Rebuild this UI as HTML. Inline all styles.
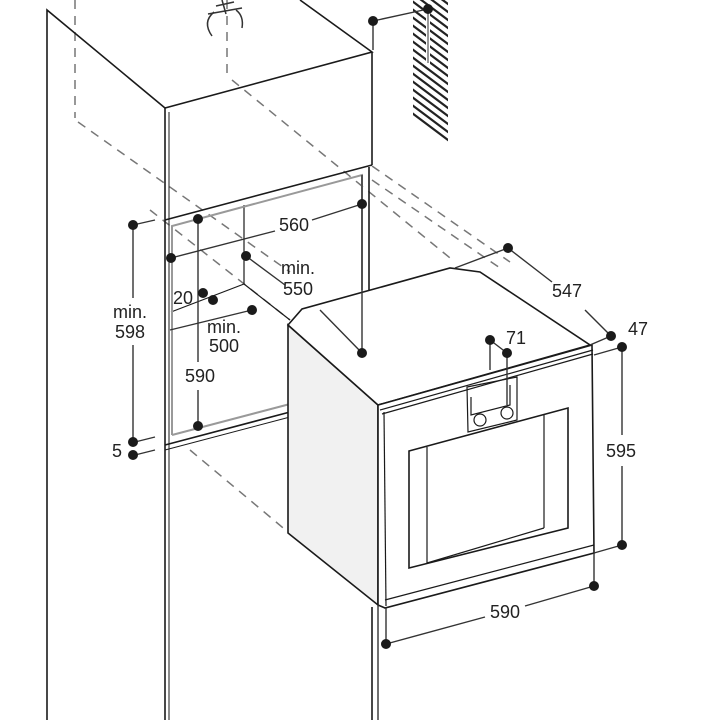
<!DOCTYPE html>
<html><head><meta charset="utf-8"><style>
html,body{margin:0;padding:0;background:#fff}
svg{display:block}
text{font-family:"Liberation Sans",sans-serif;font-size:18px;fill:#222}
</style></head><body>
<svg width="720" height="720" viewBox="0 0 720 720" xmlns="http://www.w3.org/2000/svg">
<defs>
<clipPath id="hc"><polygon points="413,0 448,0 448,143 413,118"/></clipPath>
</defs>
<g clip-path="url(#hc)" stroke="#222" stroke-width="2.2">
<line x1="400" y1="-40" x2="460" y2="5"/><line x1="400" y1="-32" x2="460" y2="13"/><line x1="400" y1="-24" x2="460" y2="21"/><line x1="400" y1="-16" x2="460" y2="29"/><line x1="400" y1="-8" x2="460" y2="37"/><line x1="400" y1="0" x2="460" y2="45"/><line x1="400" y1="8" x2="460" y2="53"/><line x1="400" y1="16" x2="460" y2="61"/><line x1="400" y1="24" x2="460" y2="69"/><line x1="400" y1="32" x2="460" y2="77"/><line x1="400" y1="40" x2="460" y2="85"/><line x1="400" y1="48" x2="460" y2="93"/><line x1="400" y1="56" x2="460" y2="101"/><line x1="400" y1="64" x2="460" y2="109"/><line x1="400" y1="72" x2="460" y2="117"/><line x1="400" y1="80" x2="460" y2="125"/><line x1="400" y1="88" x2="460" y2="133"/><line x1="400" y1="96" x2="460" y2="141"/><line x1="400" y1="104" x2="460" y2="149"/><line x1="400" y1="112" x2="460" y2="157"/><line x1="400" y1="120" x2="460" y2="165"/>
</g>
<rect x="426" y="10" width="4" height="54" fill="#fff"/>
<line x1="428" y1="10" x2="428" y2="63" stroke="#777" stroke-width="1.5"/>

<g stroke="#777" stroke-width="1.5" stroke-dasharray="9,7" fill="none">
<line x1="75" y1="0" x2="75" y2="118"/>
<line x1="78" y1="122" x2="290" y2="272"/>
<line x1="227" y1="0" x2="227" y2="78"/>
<line x1="232" y1="80" x2="455" y2="262"/>
<line x1="372" y1="166" x2="510" y2="262"/>
<line x1="372" y1="180" x2="500" y2="268"/>
<line x1="190" y1="450" x2="288" y2="532"/>
<line x1="150" y1="210" x2="290" y2="320"/>
</g>

<g stroke="#1a1a1a" stroke-width="1.6" fill="none">
<polyline points="47,720 47,10 165,108 372,52 300,0"/>
<line x1="165" y1="108" x2="165" y2="720"/>
<line x1="169" y1="112" x2="169" y2="720" stroke-width="1"/>
<line x1="372" y1="52" x2="372" y2="165"/>
<line x1="165" y1="220" x2="372" y2="165"/>
<line x1="369" y1="167" x2="369" y2="290"/>
<line x1="372" y1="607" x2="372" y2="720"/>
<line x1="165" y1="445" x2="290" y2="412"/>
<line x1="165" y1="450" x2="290" y2="417" stroke-width="1"/>
<line x1="244" y1="205" x2="244" y2="284" stroke-width="1.2"/>
<line x1="171" y1="312" x2="244" y2="284" stroke-width="1.2"/>
<line x1="244" y1="284" x2="290" y2="320" stroke-width="1.2"/>
</g>
<g stroke="#999" stroke-width="2" fill="none">
<polyline points="172,435 172,226 362,175 362,290"/>
<line x1="172" y1="435" x2="290" y2="404"/>
</g>

<polygon points="288,325 378,405 378,605 288,533" fill="#f1f1f1" stroke="#1a1a1a" stroke-width="1.6"/>
<polygon points="288,325 302,309 450,268 480,272 590,345 378,405" fill="#fff" stroke="#1a1a1a" stroke-width="1.6"/>
<polygon points="378,405 592,345 594,553 385,608 378,605" fill="#fff" stroke="#1a1a1a" stroke-width="1.6"/>
<g stroke="#1a1a1a" fill="none" stroke-width="1.2">
<line x1="380" y1="410" x2="593" y2="350"/>
<line x1="382" y1="414" x2="593" y2="354"/>
<line x1="384" y1="412" x2="386" y2="606"/>
<line x1="385" y1="600" x2="594" y2="545"/>
<polygon points="409,451 568,408 568,528 409,568" stroke-width="1.6"/>
<line x1="427" y1="447" x2="427" y2="563"/>
<line x1="544" y1="415" x2="544" y2="528"/>
<line x1="427" y1="563" x2="544" y2="528"/>
<polygon points="467,387 517,377 517,420 468,432"/>
<polyline points="471,397 471,415 510,405 510,385"/>
<circle cx="480" cy="420" r="6"/><circle cx="507" cy="413" r="6"/>
</g>

<g stroke="#333" stroke-width="1.4" fill="none">
<line x1="373" y1="21" x2="428" y2="9"/><line x1="373" y1="21" x2="373" y2="50"/>
<line x1="171" y1="258" x2="275" y2="231"/><line x1="312" y1="220" x2="362" y2="204"/>
<line x1="198" y1="219" x2="198" y2="362"/><line x1="198" y1="390" x2="198" y2="426"/>
<line x1="362" y1="175" x2="362" y2="353"/>
<line x1="246" y1="256" x2="285" y2="285"/><line x1="320" y1="310" x2="362" y2="353"/>
<line x1="133" y1="225" x2="155" y2="220"/>
<line x1="133" y1="225" x2="133" y2="298"/><line x1="133" y1="345" x2="133" y2="442"/>
<line x1="135" y1="442" x2="155" y2="437"/><line x1="135" y1="455" x2="155" y2="450"/>
<line x1="170" y1="330" x2="252" y2="310"/>
<line x1="508" y1="248" x2="552" y2="282"/><line x1="585" y1="310" x2="611" y2="336"/>
<line x1="455" y1="268" x2="508" y2="248"/>
<line x1="590" y1="345" x2="611" y2="336"/>
<line x1="594" y1="355" x2="622" y2="347"/>
<line x1="622" y1="347" x2="622" y2="435"/><line x1="622" y1="466" x2="622" y2="545"/>
<line x1="594" y1="553" x2="622" y2="545"/>
<line x1="490" y1="340" x2="490" y2="370"/><line x1="490" y1="340" x2="507" y2="353"/>
<line x1="507" y1="353" x2="507" y2="405"/>
<line x1="386" y1="608" x2="386" y2="644"/>
<line x1="594" y1="553" x2="594" y2="586"/>
<line x1="386" y1="644" x2="485" y2="617"/><line x1="525" y1="606" x2="594" y2="586"/>
<line x1="378" y1="605" x2="378" y2="720"/>
</g>
<g fill="#1a1a1a">
<circle cx="373" cy="21" r="5"/><circle cx="428" cy="9" r="5"/>
<circle cx="171" cy="258" r="5"/><circle cx="362" cy="204" r="5"/>
<circle cx="198" cy="219" r="5"/><circle cx="198" cy="426" r="5"/>
<circle cx="246" cy="256" r="5"/><circle cx="362" cy="353" r="5"/>
<circle cx="133" cy="225" r="5"/><circle cx="133" cy="442" r="5"/><circle cx="133" cy="455" r="5"/>
<circle cx="203" cy="293" r="5"/><circle cx="213" cy="300" r="5"/>
<circle cx="252" cy="310" r="5"/>
<circle cx="508" cy="248" r="5"/><circle cx="611" cy="336" r="5"/><circle cx="622" cy="347" r="5"/>
<circle cx="622" cy="545" r="5"/>
<circle cx="490" cy="340" r="5"/><circle cx="507" cy="353" r="5"/>
<circle cx="386" cy="644" r="5"/><circle cx="594" cy="586" r="5"/>
</g>
<g stroke="#333" stroke-width="1.5" fill="none">
<path d="M212,36 Q202,22 214,12"/>
<path d="M242,28 Q244,16 236,10"/>
<line x1="208" y1="14" x2="242" y2="8"/>
<line x1="222" y1="0" x2="226" y2="14"/><line x1="216" y1="6" x2="234" y2="2"/>
</g>

<text x="294" y="231" text-anchor="middle">560</text>
<text x="298" y="274" text-anchor="middle">min.</text>
<text x="298" y="295" text-anchor="middle">550</text>
<text x="173" y="304">20</text>
<text x="224" y="333" text-anchor="middle">min.</text>
<text x="224" y="352" text-anchor="middle">500</text>
<text x="200" y="382" text-anchor="middle">590</text>
<text x="130" y="318" text-anchor="middle">min.</text>
<text x="130" y="338" text-anchor="middle">598</text>
<text x="112" y="457">5</text>
<text x="567" y="297" text-anchor="middle">547</text>
<text x="638" y="335" text-anchor="middle">47</text>
<text x="516" y="344" text-anchor="middle">71</text>
<text x="621" y="457" text-anchor="middle">595</text>
<text x="505" y="618" text-anchor="middle">590</text>
</svg>
</body></html>
